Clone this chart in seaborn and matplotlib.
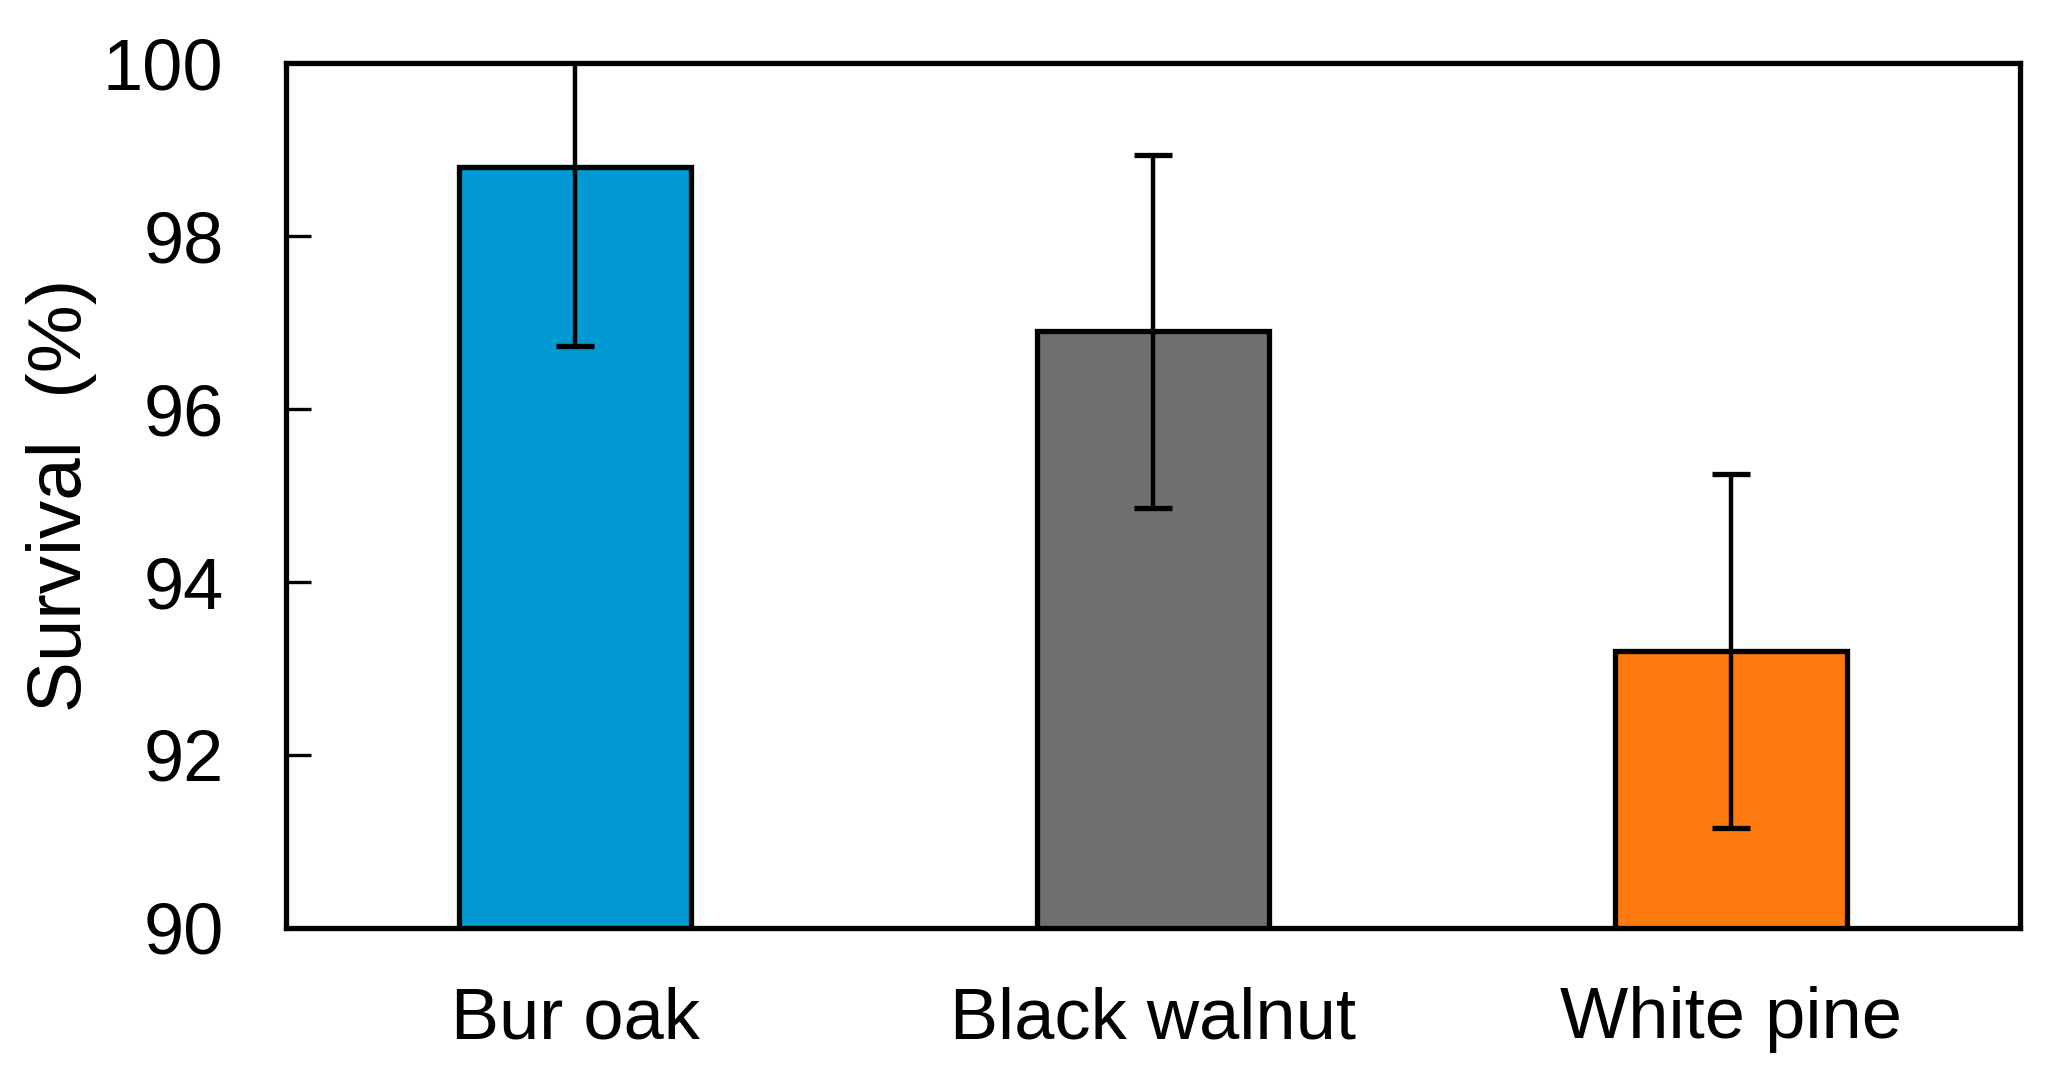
import numpy as np
import pandas as pd
import matplotlib
matplotlib.use("Agg")
import matplotlib.pyplot as plt
import seaborn as sns

# Datos
species = ["Bur oak", "Black walnut", "White pine"]
survival = [98.8, 96.9, 93.2]
survival_err = [2.07, 2.04, 2.05]
bar_colors = ["#0099D4", "#707070", "#FF7B0F"]

df = pd.DataFrame({"species": species, "survival": survival})

sns.set_theme(style="ticks")
plt.rcParams["font.family"] = ["Liberation Sans", "DejaVu Sans"]
plt.rcParams.update({"text.color": "black", "axes.labelcolor": "black",
                     "xtick.color": "black", "ytick.color": "black"})

fig = plt.figure(figsize=(20.49, 10.79), dpi=100)
ax = fig.add_axes([0.1396, 0.140, 0.8463, 0.8015])

sns.barplot(data=df, x="species", y="survival", hue="species",
            palette=bar_colors, legend=False, width=0.4,
            edgecolor="black", linewidth=3.8, saturation=1, ax=ax)

# Barras de error (+/-)
ax.errorbar(species, survival, yerr=survival_err, fmt="none",
            ecolor="black", elinewidth=3.2, capsize=13.5, capthick=3.8,
            zorder=5)

ax.set_ylim(90, 100)
ax.set_xlim(-0.5, 2.5)
ax.set_yticks([90, 92, 94, 96, 98, 100])

ax.set_xlabel("")
ax.set_ylabel("Survival  (%)", fontsize=55, labelpad=4, color="black")

ax.tick_params(axis="y", direction="in", length=18, width=2.4, pad=45,
               labelsize=52, right=False, color="black", labelcolor="black")
ax.tick_params(axis="x", length=0, pad=42, labelsize=52, labelcolor="black")

for side in ["top", "bottom", "left", "right"]:
    ax.spines[side].set_visible(True)
    ax.spines[side].set_linewidth(3.8)
    ax.spines[side].set_color("black")
    ax.spines[side].set_zorder(10)

fig.savefig("out.png", dpi=100)
